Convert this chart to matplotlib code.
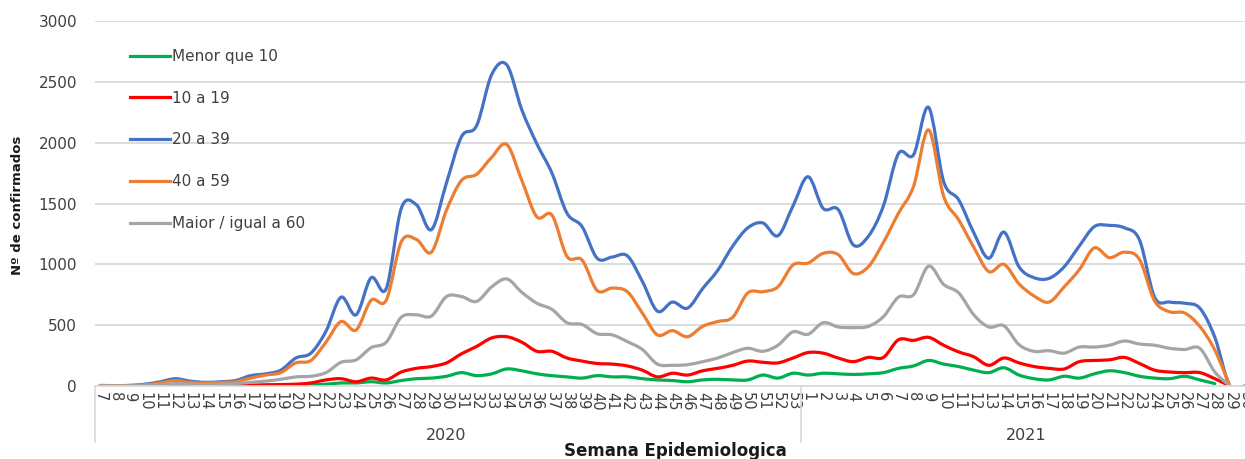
import numpy as np
import matplotlib
matplotlib.use("Agg")
import matplotlib.pyplot as plt
from matplotlib.path import Path
from matplotlib.patches import PathPatch
from matplotlib.lines import Line2D
import matplotlib.transforms as mtransforms

# ---------------- data ----------------
weeks_2020 = list(range(7, 54))
weeks_2021 = list(range(1, 31))
years = ["2020", "2021"]

nan = np.nan
menor_10 = [0, 0, 0, 0, 1, 2, 2, 2, 2, 3, 3, 4, 5, 8, 10, 15, 25, 25, 35, 25, 45, 60, 65, 80,
            110, 85, 100, 140, 125, 100, 85, 75, 65, 85, 75, 75, 60, 50, 45, 35, 50, 55, 50, 50,
            90, 65, 105,
            90, 105, 100, 95, 100, 110, 145, 165, 210, 180, 160, 130, 110, 150, 90, 60, 50, 80,
            65, 100, 125, 110, 80, 65, 60, 80, 50, 20, nan, nan]
de_10_19 = [0, 0, 0, 2, 3, 5, 5, 5, 5, 7, 8, 10, 12, 15, 25, 50, 60, 35, 65, 50, 115, 145, 160,
            190, 265, 325, 395, 405, 360, 285, 285, 230, 205, 185, 180, 165, 130, 75, 105, 90,
            125, 145, 170, 205, 195, 190, 230,
            275, 270, 230, 200, 235, 235, 380, 375, 400, 335, 280, 240, 170, 230, 190, 160, 145,
            140, 200, 210, 215, 235, 185, 130, 115, 110, 110, 60, 0, nan]
de_20_39 = [5, 3, 5, 15, 35, 60, 40, 30, 35, 45, 85, 100, 130, 230, 270, 450, 730, 585, 890,
            800, 1460, 1490, 1285, 1670, 2050, 2140, 2560, 2640, 2270, 1990, 1750, 1420, 1310,
            1050, 1060, 1070, 860, 615, 690, 640, 800, 950, 1150, 1300, 1340, 1235, 1480,
            1720, 1460, 1450, 1160, 1230, 1480, 1910, 1900, 2290, 1680, 1530, 1260, 1050, 1265,
            980, 890, 885, 980, 1150, 1310, 1320, 1300, 1200, 730, 690, 680, 640, 400, 0, 0]
de_40_59 = [3, 2, 4, 10, 25, 45, 30, 25, 30, 35, 65, 90, 110, 190, 210, 360, 530, 460, 705, 705,
            1185, 1205, 1100, 1445, 1690, 1740, 1880, 1985, 1690, 1390, 1405, 1065, 1035, 785,
            805, 775, 600, 420, 455, 405, 490, 530, 565, 765, 775, 815, 995,
            1010, 1090, 1080, 925, 980, 1180, 1420, 1640, 2105, 1560, 1365, 1140, 940, 1000,
            840, 740, 690, 815, 955, 1135, 1055, 1100, 1040, 700, 610, 600, 490, 295, 0, nan]
maior_60 = [2, 1, 2, 5, 10, 20, 15, 12, 15, 20, 30, 40, 55, 75, 80, 110, 195, 215, 315, 360,
            565, 585, 575, 735, 735, 695, 815, 880, 770, 680, 630, 520, 505, 430, 420, 365, 300,
            180, 170, 175, 200, 230, 275, 310, 285, 335, 445,
            425, 520, 485, 480, 490, 570, 730, 750, 985, 835, 765, 585, 485, 495, 340, 285, 290,
            270, 320, 320, 335, 370, 345, 335, 310, 300, 310, 115, 0, nan]

series_names = ["Menor que 10", "10 a 19", "20 a 39", "40 a 59", "Maior / igual a 60"]
series_values = [menor_10, de_10_19, de_20_39, de_40_59, maior_60]
colors = ["#00B050", "#FF0000", "#4472C4", "#ED7D31", "#A5A5A5"]

week_labels = [str(w) for w in weeks_2020] + [str(w) for w in weeks_2021]
n = len(week_labels)
x = np.arange(n)


def smooth_path(xs, ys):
    """Excel-like smoothed line (Catmull-Rom converted to cubic Bezier)."""
    ys = np.asarray(ys, dtype=float)
    verts, codes = [], []
    ok = ~np.isnan(ys)
    i = 0
    while i < len(ys):
        if not ok[i]:
            i += 1
            continue
        j = i
        while j + 1 < len(ys) and ok[j + 1]:
            j += 1
        px = np.asarray(xs[i:j + 1], dtype=float)
        py = ys[i:j + 1]
        pts = np.column_stack([px, py])
        m = len(pts)
        verts.append(pts[0]); codes.append(Path.MOVETO)
        for k in range(m - 1):
            p0 = pts[k - 1] if k > 0 else pts[k]
            p1 = pts[k]
            p2 = pts[k + 1]
            p3 = pts[k + 2] if k + 2 < m else pts[k + 1]
            c1 = p1 + (p2 - p0) / 6.0
            c2 = p2 - (p3 - p1) / 6.0
            verts.extend([c1, c2, p2]); codes.extend([Path.CURVE4] * 3)
        i = j + 1
    return Path(np.array(verts), codes)


W, H = 1245, 459
fig = plt.figure(figsize=(W / 100, H / 100), dpi=100)

x_left_px, x_right_px = 95, 1252.5
y_bot_px, y_top_px = 386, 21
ax = fig.add_axes([x_left_px / W, 1 - y_bot_px / H,
                   (x_right_px - x_left_px) / W, (y_bot_px - y_top_px) / H])

ax.set_xlim(-0.33, n - 0.5)
ax.set_ylim(0, 3000)

lw = 2.3
for vals, col, name in zip(series_values, colors, series_names):
    patch = PathPatch(smooth_path(x, vals), facecolor="none", edgecolor=col,
                      lw=lw, capstyle="round", joinstyle="round")
    ax.add_patch(patch)

# axes styling
for s in ["top", "right", "left"]:
    ax.spines[s].set_visible(False)
ax.spines["bottom"].set_color("#D9D9D9")
ax.spines["bottom"].set_linewidth(1.2)
ax.yaxis.grid(True, color="#D9D9D9", lw=1.3)
ax.set_axisbelow(True)
ax.set_yticks(range(0, 3001, 500))
ax.tick_params(axis="y", length=0, pad=13, labelsize=11, labelcolor="#404040")
ax.set_xticks(x)
ax.set_xticklabels(week_labels, rotation=270, fontsize=10.5, color="#404040")
ax.tick_params(axis="x", length=0, pad=4)

# multi-level category axis
tr = mtransforms.blended_transform_factory(ax.transData, ax.transAxes)
ax_h = y_bot_px - y_top_px
sep_bottom = -(442 - 386) / ax_h
boundaries = [-0.33, len(weeks_2020) - 0.5]
for b in boundaries:
    ax.add_line(Line2D([b, b], [0, sep_bottom], transform=tr, color="#D9D9D9",
                       lw=1.2, clip_on=False))
centers = [(-0.5 + len(weeks_2020) - 0.5) / 2,
           (len(weeks_2020) - 0.5 + n - 0.5) / 2]
for c, yr in zip(centers, years):
    ax.text(c, -(436 - 386) / ax_h, yr, transform=tr, ha="center", va="center",
            fontsize=11.5, color="#404040")

fig.text(675 / W, 1 - 456 / H, "Semana Epidemiologica", ha="center", va="baseline",
         fontsize=12, fontweight="bold", color="#1a1a1a")
fig.text(18 / W, 1 - 205 / H, "Nº de confirmados", rotation=90, ha="center",
         va="center", fontsize=9.5, fontweight="bold", color="#1a1a1a")

handles = [Line2D([], [], color=c, lw=lw) for c in colors]
leg = ax.legend(handles, series_names, loc="upper left",
                bbox_to_anchor=(130 / W, 1 - 49 / H), bbox_transform=fig.transFigure,
                frameon=False, fontsize=11, labelspacing=1.75, handlelength=2.6,
                handletextpad=0.15, borderpad=0, borderaxespad=0)
for t in leg.get_texts():
    t.set_color("#404040")

fig.savefig("out.png", dpi=100)
